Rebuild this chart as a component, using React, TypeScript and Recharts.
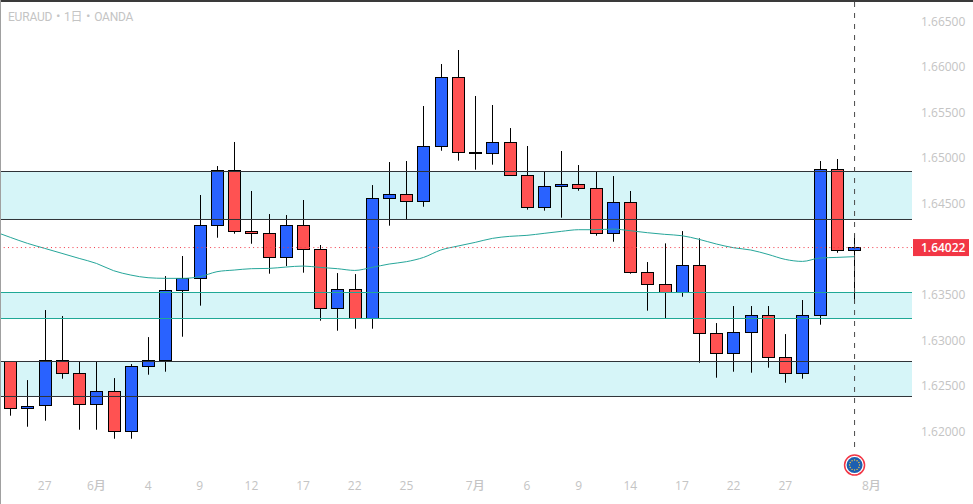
import React from 'react';
import { ComposedChart, Bar, Line, XAxis, YAxis, ReferenceArea, ReferenceLine, ReferenceDot } from 'recharts';

// daily EURAUD candles
const opens = [
  1.62772, 1.62256, 1.62289, 1.62783, 1.62641, 1.623, 1.62443, 1.62004, 1.62717, 1.62783,
  1.63552, 1.63684, 1.64266, 1.64869, 1.642, 1.64178, 1.63914, 1.64266, 1.64002, 1.63354,
  1.63563, 1.63244, 1.64562, 1.64606, 1.64529, 1.65133, 1.65891, 1.65067, 1.65056, 1.65177,
  1.64815, 1.64463, 1.64694, 1.64716, 1.64672, 1.64178, 1.64518, 1.6375, 1.63618, 1.6353,
  1.63826, 1.6308, 1.6286, 1.63091, 1.63277, 1.62816, 1.62641, 1.63277, 1.6488, 1.63991,
];
const highs = [
  1.62772, 1.62567, 1.63336, 1.6327, 1.62772, 1.62772, 1.62589, 1.62743, 1.63039, 1.63709,
  1.63929, 1.64599, 1.64917, 1.65181, 1.64643, 1.6439, 1.64379, 1.64544, 1.6405, 1.63742,
  1.63731, 1.64708, 1.64961, 1.64972, 1.65576, 1.66037, 1.66191, 1.65686, 1.65587, 1.65334,
  1.65137, 1.64858, 1.65082, 1.64928, 1.64858, 1.64807, 1.64643, 1.63863, 1.64068, 1.64203,
  1.64123, 1.63193, 1.6338, 1.6338, 1.6338, 1.63072, 1.63446, 1.64972, 1.64994, 1.64167,
];
const lows = [
  1.62176, 1.62055, 1.62121, 1.62582, 1.62022, 1.62022, 1.61923, 1.61923, 1.62626, 1.62659,
  1.63043, 1.63384, 1.6413, 1.64174, 1.64064, 1.63735, 1.63819, 1.63746, 1.63219, 1.63109,
  1.63131, 1.63131, 1.64262, 1.64328, 1.6447, 1.65085, 1.64976, 1.64877, 1.64932, 1.64815,
  1.64438, 1.64427, 1.6435, 1.64646, 1.64152, 1.64086, 1.63735, 1.63329, 1.63244, 1.63482,
  1.62758, 1.62593, 1.62659, 1.62648, 1.62703, 1.62538, 1.62582, 1.63175, 1.63965, 1.63409,
];
const closes = [
  1.62256, 1.62285, 1.62783, 1.62641, 1.623, 1.62443, 1.62004, 1.62717, 1.62783, 1.63552,
  1.63684, 1.64266, 1.64869, 1.642, 1.64178, 1.63914, 1.64266, 1.64002, 1.63354, 1.63563,
  1.63244, 1.64562, 1.64606, 1.64529, 1.65133, 1.65891, 1.65067, 1.65056, 1.65177, 1.64815,
  1.64463, 1.64694, 1.64716, 1.64672, 1.64178, 1.64518, 1.6375, 1.63618, 1.6353, 1.63826,
  1.6308, 1.6286, 1.63091, 1.63277, 1.62816, 1.62641, 1.63277, 1.6488, 1.63991, 1.64022,
];
// moving average, first value belongs to the day just off the left edge
const maValues = [
  1.64203, 1.64134, 1.64068, 1.64013, 1.63958, 1.63903, 1.63848, 1.63768, 1.6372, 1.63691, 1.63684,
  1.63684, 1.63702, 1.63757, 1.63775, 1.6379, 1.63793, 1.63808, 1.63819, 1.63804, 1.6379,
  1.63771, 1.63804, 1.63841, 1.63867, 1.63914, 1.63995, 1.64039, 1.64079, 1.64123, 1.64145,
  1.64156, 1.64178, 1.642, 1.64218, 1.64218, 1.64225, 1.64207, 1.64185, 1.64167, 1.64152,
  1.64112, 1.64061, 1.6402, 1.63995, 1.63947, 1.63892, 1.6387, 1.63907, 1.63914, 1.63922,
];

const xTickDays = [2, 5, 8, 11, 14, 17, 20, 23, 27, 30, 33, 36, 39, 42, 45, 50];
const xTickLabels = ['27', '6月', '4', '9', '12', '17', '22', '25', '7月', '6', '9', '14', '17', '22', '27', '8月'];
const priceTicks = [1.62, 1.625, 1.63, 1.635, 1.64022, 1.645, 1.65, 1.655, 1.66, 1.665];
const lastPrice = 1.64022;
const zones = [
  { from: 1.643301, to: 1.64857, edge: '#2f3338' },
  { from: 1.632431, to: 1.635286, edge: '#1fa896' },
  { from: 1.623868, to: 1.62771, edge: '#2f3338' },
];

const UP = '#2962ff';
const DOWN = '#ff5252';

// one row per day, day -1 only carries the average
const data = maValues.map((ma, n) => {
  const i = n - 1;
  const row: any = { day: i, ma };
  if (i >= 0) {
    row.open = opens[i];
    row.high = highs[i];
    row.low = lows[i];
    row.close = closes[i];
    row.range = [lows[i], highs[i]];
  }
  return row;
});

const Candle = (props: any) => {
  const { x, y, width, height, payload } = props;
  if (!payload || payload.open === undefined) return null;
  const { open, high, low, close } = payload;
  const perUnit = height / (high - low);
  const cx = Math.round(x + width / 2) + 0.5;
  const topY = Math.round(y + (high - Math.max(open, close)) * perUnit - 0.1) + 0.5;
  const botY = Math.round(y + (high - Math.min(open, close)) * perUnit - 0.1) + 0.5;
  return (
    <g>
      <line x1={cx} x2={cx} y1={y} y2={y + height} stroke="#000" strokeWidth={1} />
      <rect x={cx - 6} y={topY} width={12} height={Math.max(botY - topY, 1)} fill={close >= open ? UP : DOWN} stroke="#000" strokeWidth={1} />
    </g>
  );
};

const PriceTick = ({ x, y, payload }: any) => {
  const last = payload.value === lastPrice;
  return (
    <g>
      {last && <rect x={x - 7} y={y - 8.5} width={56} height={17} fill="#f23645" />}
      <text x={x + 1} y={y + 4} fontSize={12} fontWeight={last ? 600 : 500} fill={last ? '#fff' : '#c4c4c4'} fontFamily="'Open Sans', sans-serif">
        {payload.value.toFixed(5)}
      </text>
    </g>
  );
};

const DayTick = ({ x, y, payload }: any) => (
  <text x={x} y={y + 4} textAnchor="middle" fontSize={12} fontWeight={500} fill="#c4c4c4" fontFamily="'Open Sans', 'Noto Sans CJK JP', sans-serif">
    {xTickLabels[xTickDays.indexOf(payload.value)]}
  </text>
);

const EventIcon = ({ cx, cy }: any) => (
  <g>
    <circle cx={cx} cy={cy} r={10} fill="#fff" stroke="#f23645" strokeWidth={1.5} />
    <circle cx={cx} cy={cy} r={8} fill="#1c5fb0" />
    {Array.from({ length: 12 }, (_, k) => (
      <circle key={k} cx={cx + 5 * Math.cos((k * Math.PI) / 6)} cy={cy + 5 * Math.sin((k * Math.PI) / 6)} r={0.7} fill="#f5c542" />
    ))}
  </g>
);

const App = () => {
  return (
    <div style={{ position: 'fixed', left: 0, top: 0, width: 973, height: 504, background: '#fff', overflow: 'hidden' }}>
      <ComposedChart
        width={973}
        height={504}
        data={data}
        margin={{ top: 2, right: 0, left: 0, bottom: 0 }}
      >
        <XAxis
          dataKey="day"
          type="number"
          height={26}
          domain={[-0.598, 52.36]}
          allowDataOverflow
          ticks={xTickDays}
          interval={0}
          tick={<DayTick />}
          tickLine={false}
          axisLine={false}
        />
        <YAxis
          orientation="right"
          width={61}
          domain={[1.61492, 1.66718]}
          allowDataOverflow
          ticks={priceTicks}
          interval={0}
          tick={<PriceTick />}
          tickLine={false}
          axisLine={false}
        />
        {zones.map((z) => (
          <ReferenceArea key={z.from} y1={z.from} y2={z.to} fill="#d6f5f8" fillOpacity={1} stroke="none" />
        ))}
        {zones.map((z) => (
          <ReferenceLine key={`a${z.from}`} y={z.from} stroke={z.edge} strokeWidth={1} />
        ))}
        {zones.map((z) => (
          <ReferenceLine key={`b${z.from}`} y={z.to} stroke={z.edge} strokeWidth={1} />
        ))}
        <Bar dataKey="range" barSize={13} shape={<Candle />} isAnimationActive={false} />
        <Line dataKey="ma" type="monotone" stroke="#26a69a" strokeWidth={1} dot={false} isAnimationActive={false} />
        <ReferenceLine y={lastPrice} stroke="#f23645" strokeWidth={1} strokeDasharray="1 3.3" />
        <ReferenceLine
          segment={[{ x: 49.025, y: 1.66718 }, { x: 49.025, y: 1.6178 }]}
          stroke="#4a4a4a"
          strokeWidth={1}
          strokeDasharray="5 6"
        />
        <ReferenceDot x={49.025} y={1.61634} r={10} shape={<EventIcon />} />
      </ComposedChart>
      <div style={{ position: 'absolute', left: 8, top: 9, fontSize: 12, lineHeight: '16px', letterSpacing: -0.2, color: '#c4c4c4', fontFamily: "Roboto, 'Noto Sans CJK JP', sans-serif" }}>
        EURAUD・1日・OANDA
      </div>
      <div style={{ position: 'absolute', left: 0, top: 0, width: 973, height: 2, background: '#3a3a3a' }} />
      <div style={{ position: 'absolute', left: 0, top: 0, width: 1, height: 504, background: '#a0a0a0' }} />
    </div>
  );
};

export default App;
